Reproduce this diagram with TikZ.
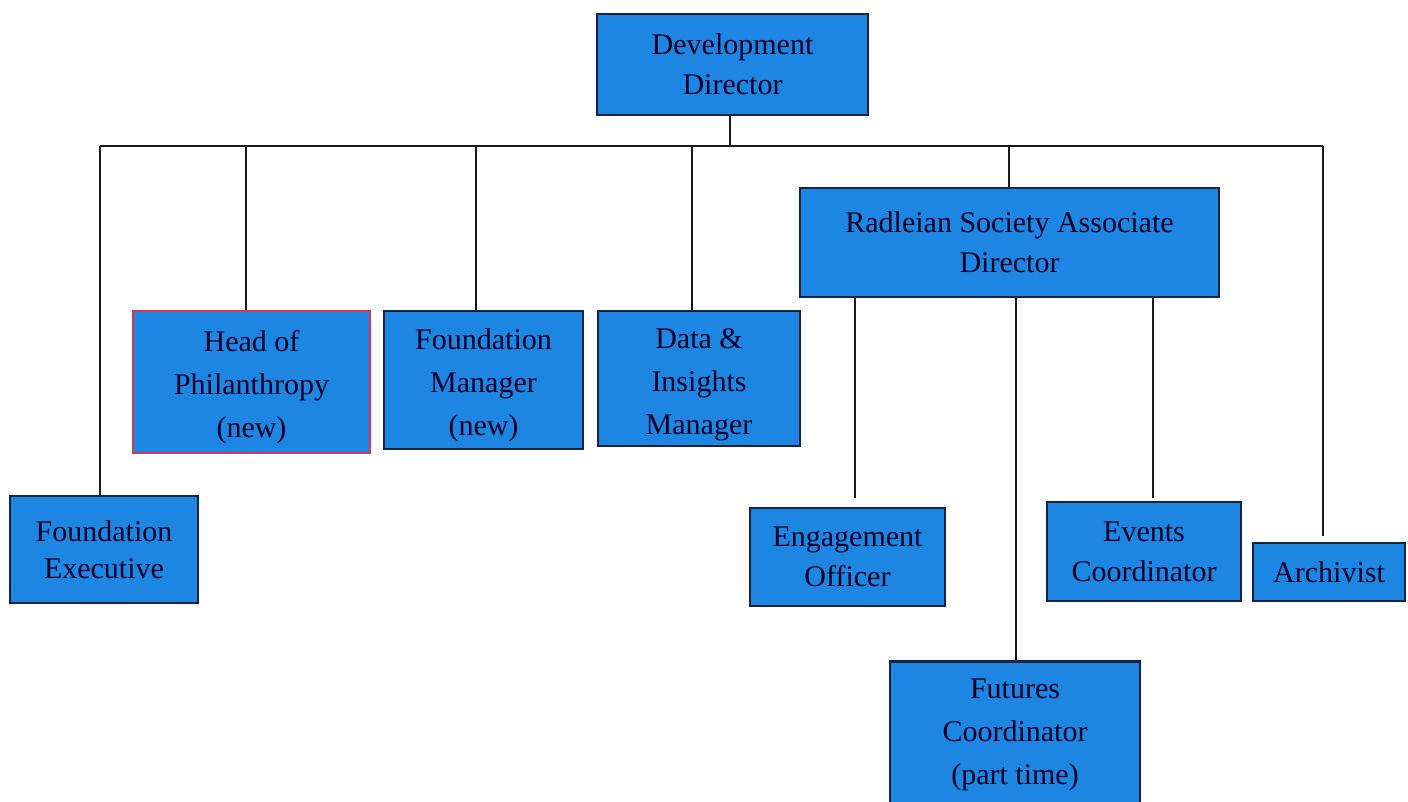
\documentclass[tikz,border=0pt]{standalone}
\usepackage{fontspec}
\setmainfont{Liberation Serif}
\usetikzlibrary{calc}
\definecolor{boxblue}{RGB}{28,134,226}
\definecolor{boxedge}{RGB}{22,34,66}
\definecolor{redge}{RGB}{200,60,90}
\begin{document}
\begin{tikzpicture}[x=1pt,y=-1pt,
  role/.style={draw=boxedge,line width=2.5pt,fill=boxblue,inner sep=0pt,align=center,
    font=\fontsize{30}{40}\selectfont,text=black!85!blue},
  label/.style={align=center,text=black!85!blue,font=\fontsize{30}{43}\selectfont},
  link/.style={draw=black!90,line width=2.8pt}]
\useasboundingbox (0,0) rectangle (1408,802);
% nodes (centres and sizes from the reference)
\node[role,minimum width=271pt,minimum height=101pt] (dd) at (732.5,64.5) {Development\\Director};
\node[role,minimum width=419pt,minimum height=109pt] (rs) at (1009.5,242.5) {Radleian Society Associate\\Director};
\node[role,draw=redge,minimum width=237pt,minimum height=142pt] (hp) at (251.5,382) {};
\node[label] (hpt) at (251.5,387) {Head of\\Philanthropy\\(new)};
\node[role,minimum width=199pt,minimum height=138pt] (fm) at (483.5,380) {};
\node[label] (fmt) at (483.5,385) {Foundation\\Manager\\(new)};
\node[role,minimum width=202pt,minimum height=135pt] (di) at (699,378.5) {};
\node[label] (dit) at (699,385) {Data \&\\Insights\\Manager};
\node[role,font=\fontsize{30}{37}\selectfont,minimum width=188pt,minimum height=107pt] (fe) at (104,549.5) {Foundation\\Executive};
\node[role,minimum width=195pt,minimum height=98pt] (eo) at (847.5,557) {Engagement\\Officer};
\node[role,minimum width=194pt,minimum height=99pt] (ec) at (1144,551.5) {Events\\Coordinator};
\node[role,minimum width=152pt,minimum height=58pt] (ar) at (1329,572) {Archivist};
\node[role,minimum width=250pt,minimum height=160pt,anchor=north] (fc) at (1015,660) {};
\node[label] (fct) at (1015,735) {Futures\\Coordinator\\(part time)};
% bus
\coordinate (bus) at (0,146);
\coordinate (busL) at (100,146);
\coordinate (busR) at (1323,146);
\draw[link] (busL) -- (busR);
% attachment points
\coordinate (ddS) at ($(dd.south)+(-2.5,0)$);
\coordinate (feN) at ($(fe.north)+(-4,0)$);
\coordinate (hpN) at ($(hp.north)+(-5.5,0)$);
\coordinate (fmN) at ($(fm.north)+(-7.5,0)$);
\coordinate (diN) at ($(di.north)+(-7,0)$);
\coordinate (rsN) at ($(rs.north)+(-0.5,0)$);
\coordinate (arN) at ($(ar.north)+(-6,-6)$);
\coordinate (eoN) at ($(eo.north)+(7.5,-9)$);
\coordinate (ecN) at ($(ec.north)+(9,-3)$);
\coordinate (fcN) at ($(fc.north)+(1,0)$);
\draw[link] (ddS) -- (ddS |- bus);
\draw[link] (feN |- bus) -- (feN);
\draw[link] (hpN |- bus) -- (hpN);
\draw[link] (fmN |- bus) -- (fmN);
\draw[link] (diN |- bus) -- (diN);
\draw[link] (rsN |- bus) -- (rsN);
\draw[link] (arN |- bus) -- (arN);
% Radleian subordinates
\draw[link] (eoN |- rs.south) -- (eoN);
\draw[link] (ecN |- rs.south) -- (ecN);
\draw[link] (fcN |- rs.south) -- (fcN);
\end{tikzpicture}
\end{document}
